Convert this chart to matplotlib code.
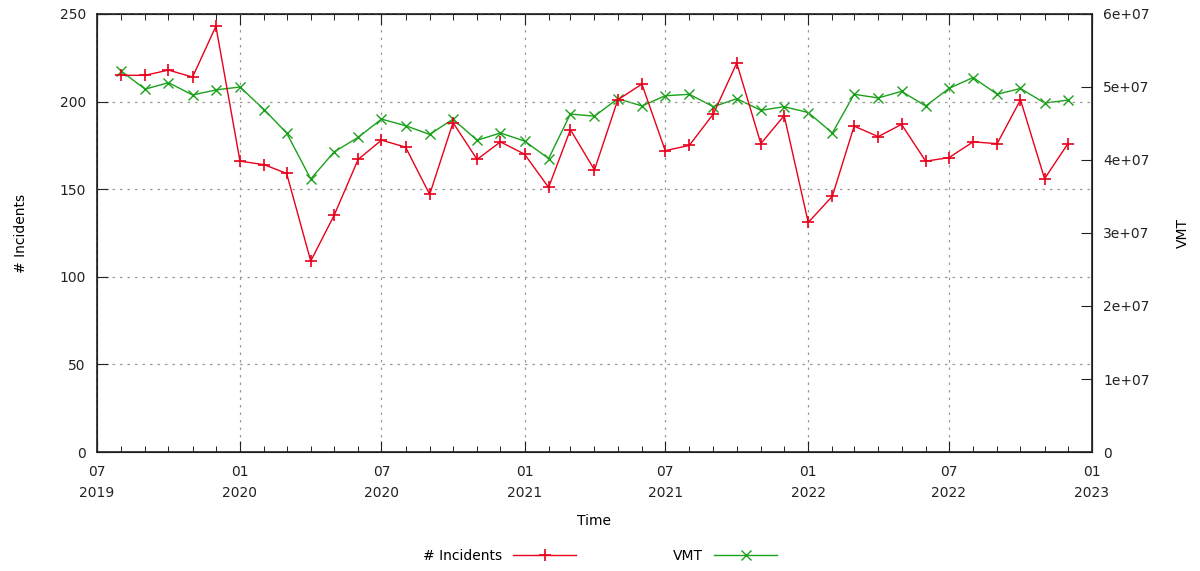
import numpy as np
import pandas as pd
import matplotlib
matplotlib.use("Agg")
import matplotlib.pyplot as plt
import matplotlib.dates as mdates
from matplotlib.ticker import FixedLocator, FuncFormatter

# monthly data, Aug 2019 .. Dec 2022
months = pd.date_range("2019-08-01", "2022-12-01", freq="MS")

incidents = [215, 215, 218, 214, 243, 166, 164, 159, 109, 135, 167, 178, 174, 147, 188, 167,
             177, 170, 151, 184, 161, 201, 210, 172, 175, 193, 222, 176, 192,
             131, 146, 186, 180, 187, 166, 168, 177, 176, 201, 156, 176]

vmt = [5.22e7, 4.97e7, 5.06e7, 4.89e7, 4.96e7, 5.00e7, 4.69e7, 4.37e7, 3.74e7, 4.11e7, 4.31e7,
       4.56e7, 4.47e7, 4.35e7, 4.56e7, 4.27e7, 4.37e7, 4.26e7, 4.02e7, 4.63e7, 4.60e7, 4.84e7,
       4.74e7, 4.88e7, 4.90e7, 4.73e7, 4.84e7, 4.68e7, 4.73e7, 4.65e7, 4.37e7, 4.90e7, 4.85e7,
       4.94e7, 4.74e7, 4.98e7, 5.13e7, 4.90e7, 4.98e7, 4.78e7, 4.82e7]

plt.rcParams['font.family'] = ['DejaVu Sans']
plt.rcParams['font.size'] = 10

fig = plt.figure(figsize=(12, 5.71), dpi=100)
ax = fig.add_axes([0.0808, 0.2084, 0.9100 - 0.0808, 0.9755 - 0.2084])
ax2 = ax.twinx()

red = '#e8001c'
green = '#1aa01a'

l1, = ax.plot(months, incidents, color=red, lw=1.0, marker='+', ms=9, mew=1.2,
              label='# Incidents')
l2, = ax2.plot(months, vmt, color=green, lw=1.0, marker='x', ms=7, mew=1.0,
               label='VMT')
ax2.set_zorder(ax.get_zorder() - 1)
ax.patch.set_visible(False)
ax.set_zorder(2)

ax.set_xlim(pd.Timestamp("2019-07-01"), pd.Timestamp("2023-01-01"))
ax.set_ylim(0, 250)
ax2.set_ylim(0, 6e7)

ax.xaxis.set_major_locator(mdates.MonthLocator(bymonth=[1, 7]))
ax.xaxis.set_minor_locator(mdates.MonthLocator())
ax.xaxis.set_major_formatter(mdates.DateFormatter("%m\n%Y"))
ax.yaxis.set_major_locator(FixedLocator([0, 50, 100, 150, 200, 250]))
ax2.yaxis.set_major_locator(FixedLocator(np.arange(0, 6.1e7, 1e7)))
ax2.yaxis.set_major_formatter(FuncFormatter(lambda v, p: "0" if v == 0 else "%de+07" % round(v / 1e7)))

ax.tick_params(axis='x', which='both', direction='in', top=True, bottom=True, pad=9)
ax.tick_params(axis='x', which='major', length=8)
ax.tick_params(axis='x', which='minor', length=4)
ax.tick_params(axis='y', direction='in', length=8, right=False, pad=8)
ax2.tick_params(axis='y', direction='in', length=8, pad=8)
ax.tick_params(labelsize=10, colors='#222222')
ax2.tick_params(labelsize=10, colors='#222222')
for lab in ax.get_xticklabels():
    lab.set_linespacing(1.7)

ax.grid(True, which='major', color='#999999', ls=(0, (2, 4)), lw=0.9)

for sp in ax.spines.values():
    sp.set_color('#222222')
    sp.set_linewidth(1.2)

ax.set_xlabel("Time", labelpad=10)
ax.set_ylabel("# Incidents", labelpad=23)
ax2.set_ylabel("VMT", labelpad=19)

fig.legend(handles=[l1, l2], loc='center', bbox_to_anchor=(0.5, 0.027), ncol=2,
           frameon=False, markerfirst=False, handlelength=4.5, columnspacing=7,
           fontsize=10)

fig.savefig("out.png", dpi=100)
